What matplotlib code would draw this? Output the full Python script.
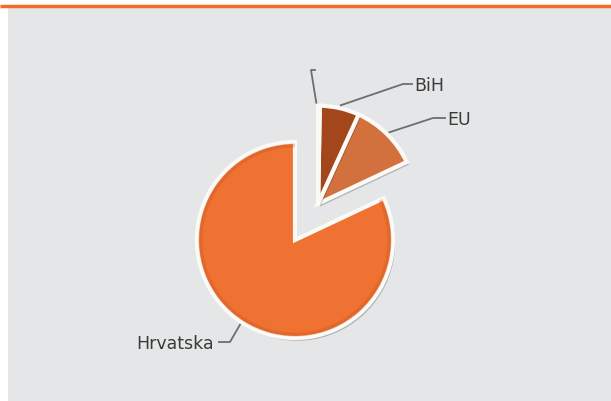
import numpy as np
import matplotlib.pyplot as plt
from matplotlib.patches import Rectangle, Wedge
import matplotlib.patheffects as pe

# data (percent)
labels = ["Hrvatska", "EU", "BiH", ""]
shares = [82.0, 11.2, 6.5, 0.3]
colors = ["#F07233", "#D2703E", "#A3461B", "#8A3A16"]

# label anchor: (angle on rim deg, elbow xy, text xy, ha) in pixel space (y up)
label_pos = {
    "Hrvatska": (237, (230, 59), (214, 57), "right"),
    "EU": (45, (433, 283), (447, 281), "left"),
    "BiH": (77, (403, 317), (414, 315), "left"),
    "": (91, (311, 331), (317, 331), "left"),
}

W, H = 611, 401
fig = plt.figure(figsize=(W / 100, H / 100), dpi=100)
ax = fig.add_axes([0, 0, 1, 1])
fig.patch.set_facecolor("white")

# grey panel + orange rule on top
ax.add_patch(Rectangle((8, 0), W - 8, 394, facecolor="#E5E6E7", edgecolor="none", zorder=0))
ax.plot([0, W], [395, 395], color="#F26B2A", lw=2.5, solid_capstyle="butt", zorder=1)

center = np.array([295.0, 161.0])
radius = 98
shadow = [pe.SimplePatchShadow(offset=(1.5, -2), shadow_rgbFace="#000000", alpha=0.22), pe.Normal()]
wp = dict(edgecolor="#FBFAF7", linewidth=3)

# main slice
w_main, _ = ax.pie(shares, colors=colors, startangle=90, counterclock=True,
                   radius=radius, center=tuple(center), wedgeprops=wp, frame=True)
for i, w in enumerate(w_main):
    if i > 0:
        w.set_visible(False)
    else:
        w.set_path_effects(shadow)
        ax.add_patch(Wedge(tuple(center), radius - 1.5, w.theta1, w.theta2, width=4,
                           facecolor="#B84A15", edgecolor="none", alpha=0.25, zorder=w.get_zorder() + 0.1))

# small slices pulled out together along their common bisector
total = sum(shares)
a0 = 90 + 360 * shares[0] / total
mid = np.deg2rad((a0 + 450) / 2)
offset = 43 * np.array([np.cos(mid), np.sin(mid)])
center2 = center + offset
w_out, _ = ax.pie(shares, colors=colors, startangle=90, counterclock=True,
                  radius=radius, center=tuple(center2), wedgeprops=wp, frame=True)
for i, w in enumerate(w_out):
    if i == 0:
        w.set_visible(False)
    else:
        w.set_path_effects(shadow)

ax.set_xlim(0, W)
ax.set_ylim(0, H)
ax.set_aspect("equal")
ax.axis("off")

# leader lines and labels
for lab in labels:
    ang, elbow, txt, ha = label_pos[lab]
    c = center if lab == "Hrvatska" else center2
    r = radius + 3
    p0 = c + r * np.array([np.cos(np.deg2rad(ang)), np.sin(np.deg2rad(ang))])
    end_x = txt[0] + (5 if ha == "right" else -2)
    ax.plot([p0[0], elbow[0], end_x], [p0[1], elbow[1], elbow[1]],
            color="#6E6E6E", lw=1.3, zorder=5)
    if lab:
        ax.text(txt[0], txt[1], lab, ha=ha, va="center", fontsize=12.5,
                color="#3A3A3A", family="DejaVu Sans", zorder=6)

fig.savefig("out.png", dpi=100)
